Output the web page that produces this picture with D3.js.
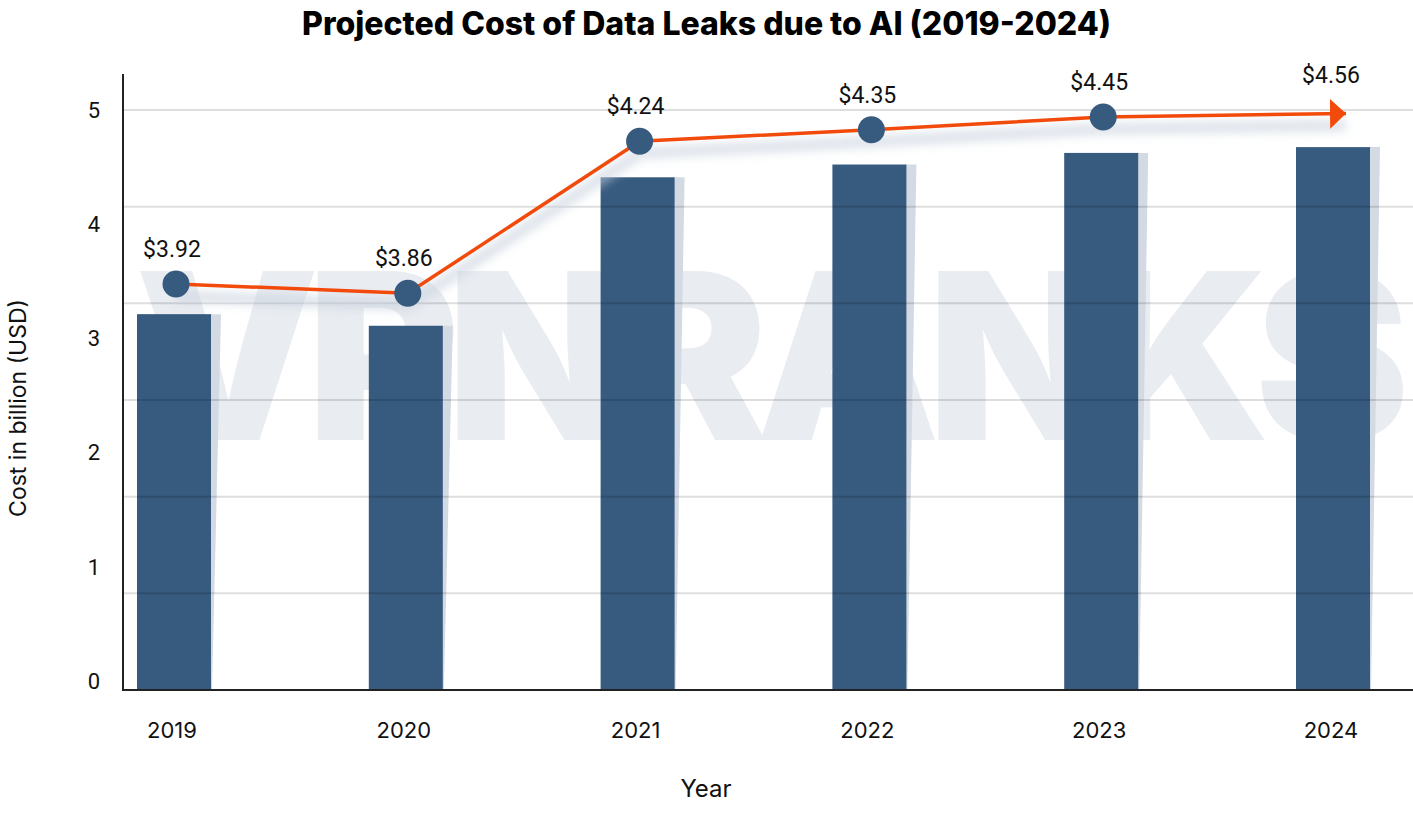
<!DOCTYPE html>
<html>
<head>
<meta charset="utf-8">
<script src="https://cdn.jsdelivr.net/npm/d3@7"></script>
<style>
  html, body { margin: 0; padding: 0; background: #fff; }
  svg { display: block; }
</style>
</head>
<body>
<svg id="chart"></svg>
<script>
// data
const years = ["2019", "2020", "2021", "2022", "2023", "2024"];
const barValues = [3.24, 3.14, 4.42, 4.53, 4.63, 4.68];
const lineValues = [3.50, 3.42, 4.73, 4.83, 4.94, 4.97];
const costLabels = ["$3.92", "$3.86", "$4.24", "$4.35", "$4.45", "$4.56"];
const yTicks = [0, 1, 2, 3, 4, 5];

const W = 1413;
const H = 814;
const plot = { left: 123, right: 1413, top: 110, bottom: 690 };

const svg = d3.select("#chart").attr("width", W).attr("height", H);

const x = d3.scalePoint().domain(years).range([174, 1333]);
const y = d3.scaleLinear().domain([0, 5]).range([plot.bottom, plot.top]);
// tick labels sit a little above the baseline in the original
const yLabel = d3.scaleLinear().domain([0, 5]).range([681, plot.top]);
// gridlines split the plot in six equal bands
const grid = d3.scaleLinear().domain([0, 6]).range([plot.bottom, plot.top]);

const barW = 74;

const defs = svg.append("defs");
defs.append("filter")
  .attr("id", "soft")
  .attr("x", "-10%").attr("y", "-50%")
  .attr("width", "120%").attr("height", "200%")
  .append("feGaussianBlur")
  .attr("stdDeviation", 5);

defs.append("marker")
  .attr("id", "arrow")
  .attr("viewBox", "0 0 16 30")
  .attr("refX", 16)
  .attr("refY", 15)
  .attr("markerWidth", 16)
  .attr("markerHeight", 30)
  .attr("markerUnits", "userSpaceOnUse")
  .attr("orient", "auto")
  .append("path")
  .attr("d", "M0,0 L16,15 L0,30 Z")
  .attr("fill", "#f24a0a");

// title
svg.append("text")
  .attr("x", W / 2)
  .attr("y", 35)
  .attr("text-anchor", "middle")
  .attr("font-family", "Inter, 'Noto Sans', sans-serif")
  .attr("font-weight", 800)
  .attr("font-size", 32)
  .attr("fill", "#000")
  .text("Projected Cost of Data Leaks due to AI (2019-2024)");

// watermark, squeezed with letter spacing so it ends inside the page
const mark = svg.append("text")
  .attr("x", 135)
  .attr("y", 440)
  .attr("font-family", "Inter, 'Noto Sans', sans-serif")
  .attr("font-weight", 900)
  .attr("font-size", 232)
  .attr("fill", "#e9ecf1")
  .text("VPNRANKS");
const markW = mark.node().getComputedTextLength();
mark.attr("letter-spacing", (1262 - markW) / 8);

// bar shadows
svg.append("g")
  .selectAll("path")
  .data(years)
  .join("path")
  .attr("d", (d, i) => {
    const r = x(d) + barW / 2;
    const t = y(barValues[i]);
    return `M${r - 2},${t} L${r + 10},${t} L${r + 1},${plot.bottom} L${r - 2},${plot.bottom} Z`;
  })
  .attr("fill", "#d3dae3");

// bars
svg.append("g")
  .selectAll("rect")
  .data(years)
  .join("rect")
  .attr("x", (d) => x(d) - barW / 2)
  .attr("y", (d, i) => y(barValues[i]))
  .attr("width", barW)
  .attr("height", (d, i) => plot.bottom - y(barValues[i]))
  .attr("fill", "#375a7f");

// gridlines, drawn over the bars
svg.append("g")
  .selectAll("line")
  .data(d3.range(1, 7))
  .join("line")
  .attr("x1", plot.left)
  .attr("x2", plot.right)
  .attr("y1", (d) => grid(d))
  .attr("y2", (d) => grid(d))
  .attr("stroke", "rgba(0,0,0,0.13)")
  .attr("stroke-width", 2);

// axes lines
svg.append("line")
  .attr("x1", plot.left).attr("x2", plot.left)
  .attr("y1", 74).attr("y2", plot.bottom + 1)
  .attr("stroke", "#222").attr("stroke-width", 2);
svg.append("line")
  .attr("x1", plot.left - 1).attr("x2", plot.right)
  .attr("y1", plot.bottom).attr("y2", plot.bottom)
  .attr("stroke", "#222").attr("stroke-width", 2);

// y tick labels
svg.append("g")
  .selectAll("text")
  .data(yTicks)
  .join("text")
  .attr("x", 94)
  .attr("y", (d) => yLabel(d))
  .attr("dy", "0.35em")
  .attr("text-anchor", "middle")
  .attr("font-family", "Roboto, 'Liberation Sans', sans-serif")
  .attr("font-size", 22)
  .attr("fill", "#111")
  .text((d) => d);

// x tick labels
svg.append("g")
  .selectAll("text")
  .data(years)
  .join("text")
  .attr("x", (d) => x(d) - 2)
  .attr("y", 738)
  .attr("text-anchor", "middle")
  .attr("font-family", "Inter, 'Noto Sans', sans-serif")
  .attr("font-size", 22)
  .attr("fill", "#111")
  .text((d) => d);

// axis titles
svg.append("text")
  .attr("x", 706)
  .attr("y", 797)
  .attr("text-anchor", "middle")
  .attr("font-family", "Inter, 'Noto Sans', sans-serif")
  .attr("font-size", 24)
  .attr("fill", "#111")
  .text("Year");

svg.append("text")
  .attr("transform", "translate(26,408) rotate(-90)")
  .attr("text-anchor", "middle")
  .attr("font-family", "Inter, 'Noto Sans', sans-serif")
  .attr("font-size", 23)
  .attr("fill", "#111")
  .text("Cost in billion (USD)");

// line with soft shadow underneath
const line = d3.line()
  .x((d, i) => x(years[i]) + (i === years.length - 1 ? 13 : 2))
  .y((d) => y(d));

svg.append("path")
  .datum(lineValues)
  .attr("d", line)
  .attr("transform", "translate(0,12)")
  .attr("fill", "none")
  .attr("stroke", "#c9d2de")
  .attr("stroke-width", 12)
  .attr("opacity", 0.6)
  .attr("filter", "url(#soft)");

svg.append("path")
  .datum(lineValues)
  .attr("d", line)
  .attr("fill", "none")
  .attr("stroke", "#f24a0a")
  .attr("stroke-width", 3.5)
  .attr("marker-end", "url(#arrow)");

// points (the last one ends in the arrow)
svg.append("g")
  .selectAll("circle")
  .data(lineValues.slice(0, -1))
  .join("circle")
  .attr("cx", (d, i) => x(years[i]) + 2)
  .attr("cy", (d) => y(d))
  .attr("r", 13.5)
  .attr("fill", "#375a7f");

// value labels
svg.append("g")
  .selectAll("text")
  .data(costLabels)
  .join("text")
  .attr("x", (d, i) => x(years[i]) - 2)
  .attr("y", (d, i) => y(lineValues[i]) - (i === years.length - 1 ? 30 : 27))
  .attr("text-anchor", "middle")
  .attr("font-family", "Roboto, 'Liberation Sans', sans-serif")
  .attr("font-size", 23)
  .attr("fill", "#111")
  .text((d) => d);
</script>
</body>
</html>
